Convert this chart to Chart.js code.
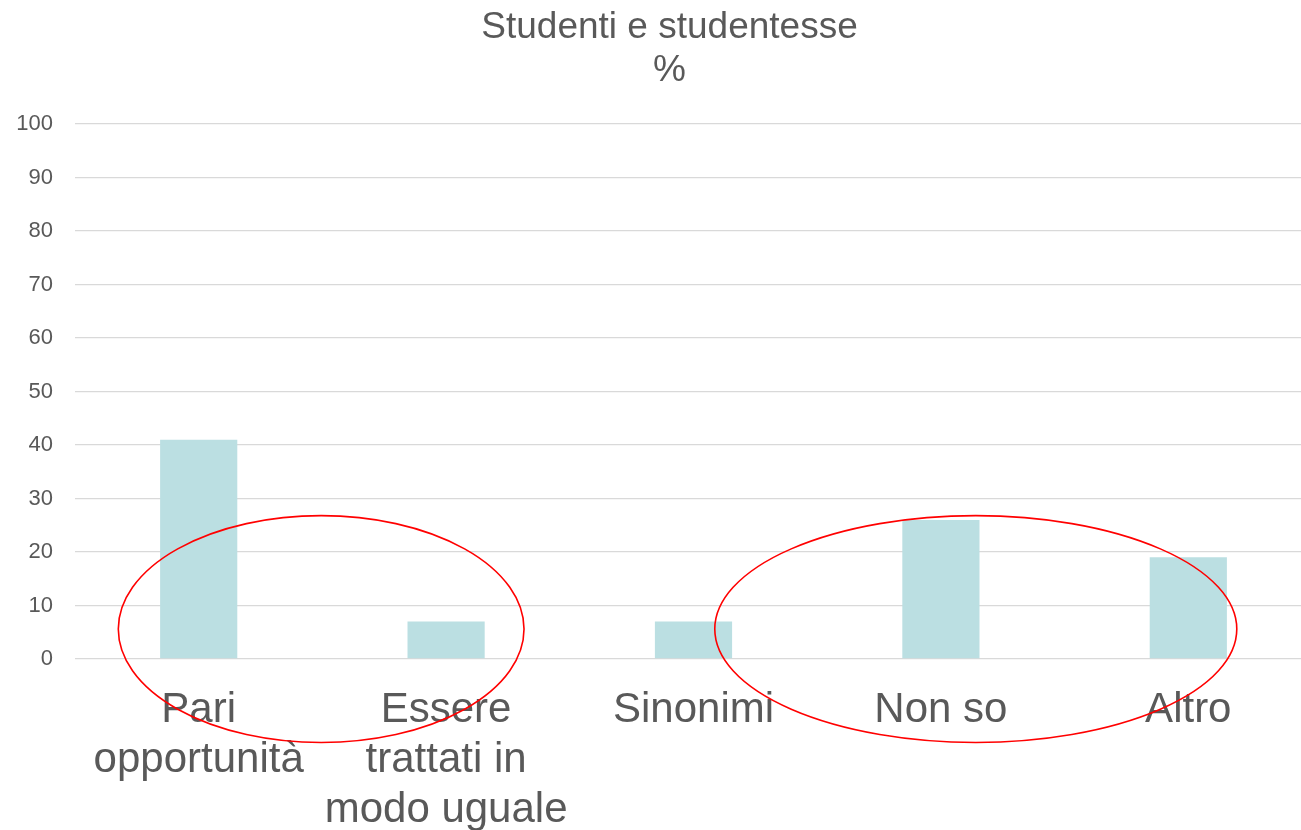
<!DOCTYPE html>
<html>
<head>
<meta charset="utf-8">
<script src="https://cdn.jsdelivr.net/npm/chart.js@4"></script>
<style>
  html, body { margin: 0; padding: 0; background: #fff; }
  #wrap { width: 1301px; height: 830px; }
</style>
</head>
<body>
<div id="wrap"><canvas id="chart"></canvas></div>
<script>
const categories = [
    ['Pari', 'opportunità'],
    ['Essere', 'trattati in', 'modo uguale'],
    'Sinonimi',
    'Non so',
    'Altro'
];
const percentuali = [41, 7, 7, 26, 19];
const yTicks = [0, 10, 20, 30, 40, 50, 60, 70, 80, 90, 100];

// red circles drawn over the chart (category index / value units)
const ellipses = [
    { cx: 0.495, rx: 0.82, cy: 5.6, ry: 21.2 },
    { cx: 3.141, rx: 1.055, cy: 5.6, ry: 21.2 }
];

const grey = '#595959';
const font = 'Liberation Sans, Arial, sans-serif';

const ellipsePlugin = {
    id: 'ellipses',
    afterLayout(chart) {
        // title sits a bit right of the canvas centre in the original
        if (chart.titleBlock) {
            chart.titleBlock.left += 19;
            chart.titleBlock.right += 19;
        }
        // the category axis runs a little past the right edge of the canvas
        const x = chart.scales.x;
        x.right += 11;
        x.width += 11;
        x.configure();
    },
    afterDraw(chart) {
        const { ctx, scales: { x, y } } = chart;
        ctx.save();
        ctx.strokeStyle = '#ff0000';
        ctx.lineWidth = 1.6;
        ellipses.forEach(e => {
            const cx = x.getPixelForValue(e.cx);
            const rx = Math.abs(x.getPixelForValue(e.cx + e.rx) - cx);
            const cy = y.getPixelForValue(e.cy);
            const ry = Math.abs(y.getPixelForValue(e.cy + e.ry) - cy);
            ctx.beginPath();
            ctx.ellipse(cx, cy, rx, ry, 0, 0, Math.PI * 2);
            ctx.stroke();
        });
        ctx.restore();
    }
};

new Chart(document.getElementById('chart'), {
    type: 'bar',
    data: {
        labels: categories,
        datasets: [{
            data: percentuali,
            backgroundColor: '#bbdfe2',
            borderWidth: 0,
            categoryPercentage: 1,
            barPercentage: 0.312
        }]
    },
    options: {
        responsive: true,
        maintainAspectRatio: false,
        animation: false,
        layout: { padding: { left: 0, right: 0, top: 0, bottom: 0 } },
        plugins: {
            legend: { display: false },
            tooltip: { enabled: false },
            title: {
                display: true,
                text: ['Studenti e studentesse', '%'],
                color: grey,
                font: { family: font, size: 37, weight: 'normal', lineHeight: 1.15 },
                padding: { top: 7, bottom: 32 }
            }
        },
        scales: {
            x: {
                grid: { display: false, drawTicks: false },
                border: { display: false },
                ticks: {
                    color: grey,
                    font: { family: font, size: 42, lineHeight: 1.19 },
                    padding: 26,
                    maxRotation: 0,
                    autoSkip: false
                },
                afterFit(scale) { scale.height = 171; }
            },
            y: {
                min: 0,
                max: 100,
                afterBuildTicks(scale) { scale.ticks = yTicks.map(v => ({ value: v })); },
                grid: { color: '#d9d9d9', lineWidth: 1.3, drawTicks: false },
                border: { display: false },
                ticks: {
                    color: grey,
                    font: { family: font, size: 22 },
                    padding: 22
                },
                afterFit(scale) { scale.width = 75; }
            }
        }
    },
    plugins: [ellipsePlugin]
});
</script>
</body>
</html>
